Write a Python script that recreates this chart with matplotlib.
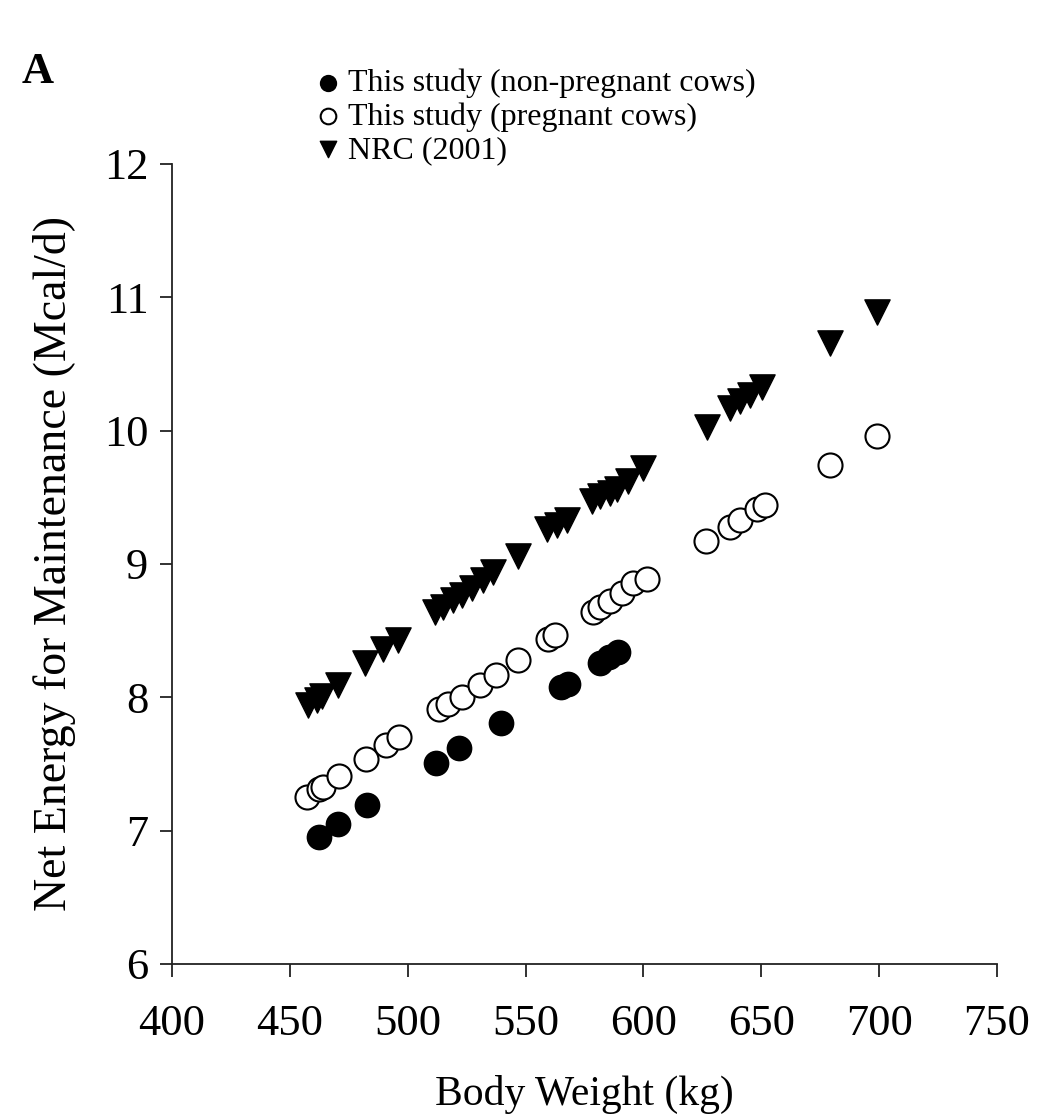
import numpy as np
import matplotlib
matplotlib.use('Agg')
import matplotlib.pyplot as plt

# Body weight (kg) and NEm (Mcal/d)
bw_nonpreg = [462.5, 470.6, 482.9, 512.0, 521.9, 539.4, 565.0, 568.0, 581.6, 585.5, 589.4]
ne_nonpreg = [6.95, 7.05, 7.19, 7.51, 7.62, 7.81, 8.08, 8.10, 8.26, 8.30, 8.34]

bw_preg = [457.4, 462.5, 464.2, 471.0, 482.3, 490.8, 496.5, 513.4, 517.2, 522.9, 530.7,
           537.5, 546.9, 559.7, 562.5, 578.7, 581.6, 585.8, 590.8, 595.7, 601.4,
           626.6, 636.7, 641.0, 648.1, 651.6, 679.2, 699.0]
ne_preg = [7.25, 7.31, 7.33, 7.41, 7.54, 7.64, 7.70, 7.91, 7.95, 8.00, 8.09,
           8.17, 8.28, 8.44, 8.47, 8.64, 8.68, 8.72, 8.78, 8.86, 8.89,
           9.17, 9.28, 9.33, 9.41, 9.44, 9.74, 9.96]

bw_nrc = [457.8, 461.4, 463.5, 470.6, 481.9, 489.7, 496.1, 511.6, 515.1, 519.3, 522.9,
          527.1, 532.1, 536.3, 546.9, 558.9, 563.2, 567.4, 578.0, 581.6, 585.8,
          588.7, 593.6, 600.0, 626.9, 636.7, 641.0, 645.2, 650.2, 679.2, 699.0]
ne_nrc = [7.94, 7.98, 8.01, 8.09, 8.26, 8.36, 8.43, 8.64, 8.68, 8.73, 8.77,
          8.82, 8.88, 8.94, 9.06, 9.26, 9.29, 9.33, 9.47, 9.51, 9.53,
          9.56, 9.62, 9.72, 10.03, 10.17, 10.22, 10.27, 10.33, 10.66, 10.89]

x_ticks = [400, 450, 500, 550, 600, 650, 700, 750]
y_ticks = [6, 7, 8, 9, 10, 11, 12]

plt.rcParams['font.family'] = ['Liberation Serif', 'DejaVu Serif']

fig = plt.figure(figsize=(10.57, 11.2), dpi=100)
ax = fig.add_axes([0.1627, 0.1393, 0.7805, 0.7143])

ax.scatter(bw_nonpreg, ne_nonpreg, s=300, marker='o', facecolor='black',
           edgecolor='black', linewidth=1.2, label='This study (non-pregnant cows)', zorder=3)
ax.scatter(bw_preg, ne_preg, s=300, marker='o', facecolor='white',
           edgecolor='black', linewidth=1.5, label='This study (pregnant cows)', zorder=3)
ax.scatter(bw_nrc, ne_nrc, s=330, marker='v', facecolor='black',
           edgecolor='black', linewidth=1.0, label='NRC (2001)', zorder=3)

ax.set_xlim(400, 750)
ax.set_ylim(6, 12)
ax.set_xticks(x_ticks)
ax.set_yticks(y_ticks)
ax.tick_params(direction='out', length=9, width=1.3, labelsize=32, color='#222222')
ax.tick_params(axis='x', pad=20)
ax.tick_params(axis='y', pad=8)
ax.spines['top'].set_visible(False)
ax.spines['right'].set_visible(False)
for s in ['left', 'bottom']:
    ax.spines[s].set_linewidth(1.3)
    ax.spines[s].set_color('#222222')

ax.set_xlabel('Body Weight (kg)', fontsize=30, labelpad=22)
ax.set_ylabel('Net Energy for Maintenance (Mcal/d)', fontsize=33, labelpad=20)

leg = ax.legend(loc='upper left', bbox_to_anchor=(0.15, 1.135), frameon=False,
                fontsize=23, markerscale=0.65, handletextpad=0.05, labelspacing=0.12,
                handlelength=1.2, borderaxespad=0)

fig.text(38 / 1057, 1 - 72 / 1120, 'A', fontsize=32, fontweight='bold', va='center', ha='center')

fig.savefig('out.png', dpi=100)
